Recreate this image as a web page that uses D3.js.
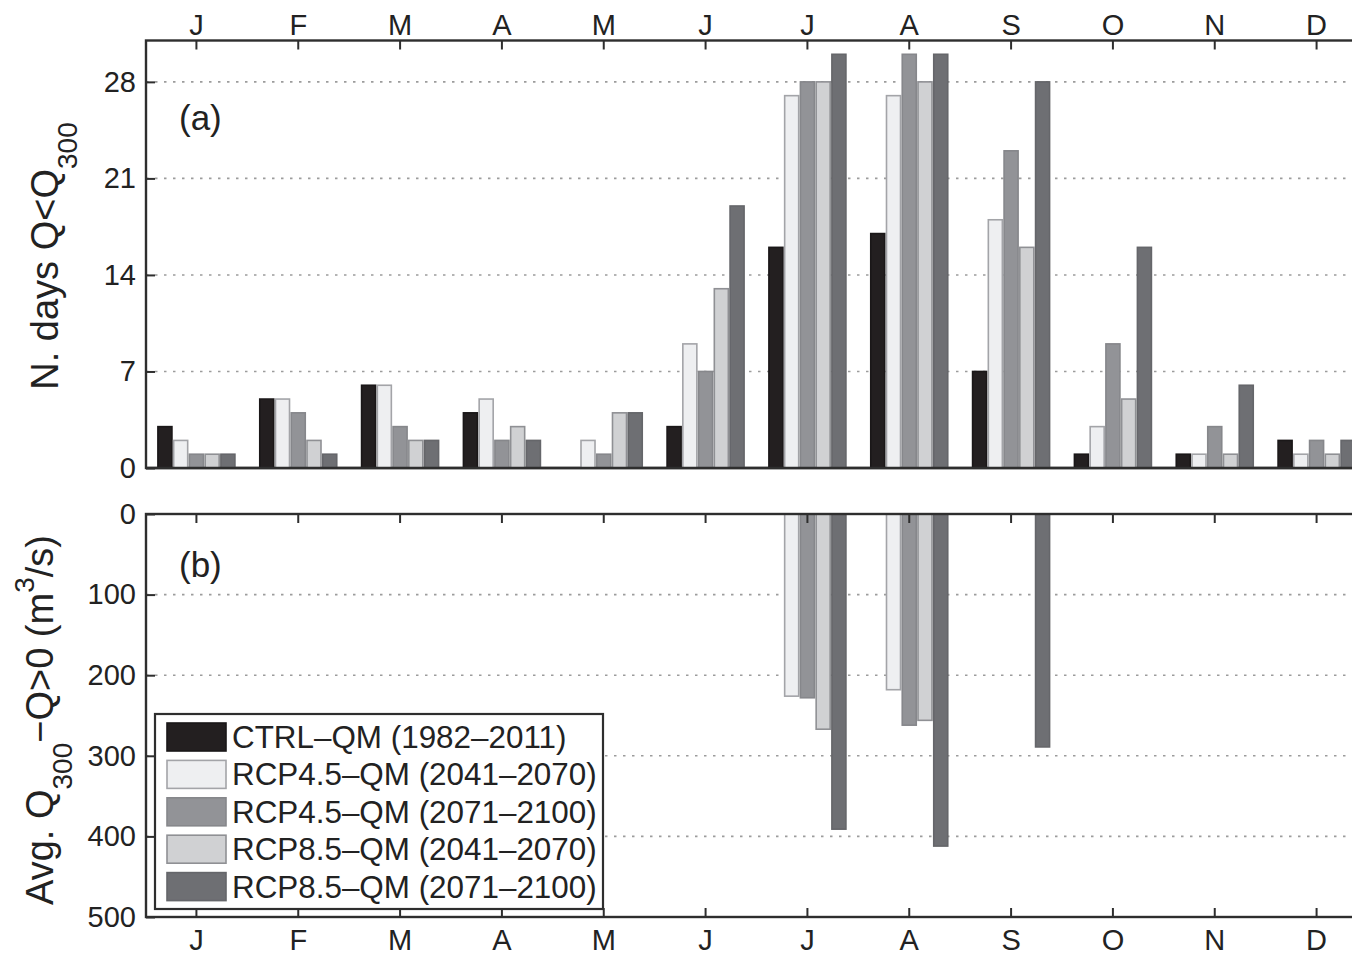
<!DOCTYPE html>
<html>
<head>
<meta charset="utf-8">
<script src="https://cdn.jsdelivr.net/npm/d3@7"></script>
<style>
  html, body { margin: 0; padding: 0; background: #fff; overflow: hidden; }
  svg { display: block; }
  text { font-family: "Liberation Sans", Arial, Helvetica, sans-serif; fill: #222; }
</style>
</head>
<body>
<svg id="chart" width="1352" height="956"></svg>
<script>
// Months (tick labels on the shared x axis)
const months = ["J", "F", "M", "A", "M", "J", "J", "A", "S", "O", "N", "D"];
const monthKeys = d3.range(12);

// Scenario names shown in the legend
const series = [
  "CTRL\u2013QM (1982\u20132011)",
  "RCP4.5\u2013QM (2041\u20132070)",
  "RCP4.5\u2013QM (2071\u20132100)",
  "RCP8.5\u2013QM (2041\u20132070)",
  "RCP8.5\u2013QM (2071\u20132100)"
];
const fills   = ["#231f20", "#eeeff1", "#929397", "#d0d1d3", "#6e6f73"];
const strokes = ["#1a1718", "#a3a4a8", "#86878b", "#8f9094", "#65666a"];

// (a) number of days with Q < Q300, per month, per scenario
const daysCTRL     = [3, 5, 6, 4, 0, 3, 16, 17, 7, 1, 1, 2];
const days45mid    = [2, 5, 6, 5, 2, 9, 27, 27, 18, 3, 1, 1];
const days45late   = [1, 4, 3, 2, 1, 7, 28, 30, 23, 9, 3, 2];
const days85mid    = [1, 2, 2, 3, 4, 13, 28, 28, 16, 5, 1, 1];
const days85late   = [1, 1, 2, 2, 4, 19, 30, 30, 28, 16, 6, 2];

// (b) average deficit Q300 - Q > 0 (m3/s)
const defCTRL   = [0, 0, 0, 0, 0, 0, 0, 0, 0, 0, 0, 0];
const def45mid  = [0, 0, 0, 0, 0, 0, 226, 218, 0, 0, 0, 0];
const def45late = [0, 0, 0, 0, 0, 0, 228, 262, 0, 0, 0, 0];
const def85mid  = [0, 0, 0, 0, 0, 0, 267, 256, 0, 0, 0, 0];
const def85late = [0, 0, 0, 0, 0, 0, 391, 412, 289, 0, 0, 0];

// Axis ticks
const ticksA = [0, 7, 14, 21, 28];
const ticksB = [0, 100, 200, 300, 400, 500];

const daysData = [daysCTRL, days45mid, days45late, days85mid, days85late];
const defData  = [defCTRL, def45mid, def45late, def85mid, def85late];

const svg = d3.select("#chart");
const axisColor = "#2e2e2e";
const fontSize = 29;

const x = d3.scaleBand().domain(monthKeys).range([145.5, 1367.5]).padding(0);
const xi = d3.scaleBand().domain(d3.range(series.length)).range([-38.5, 38.5]).paddingInner(0.11);

const yA = d3.scaleLinear().domain([0, 31]).range([468, 40.5]);
const yB = d3.scaleLinear().domain([0, 500]).range([514, 917]);

const left = 146, right = 1367;

// dotted grid lines
function grid(scale, ticks) {
  svg.append("g").selectAll("line").data(ticks.filter(t => t > 0 && t < scale.domain()[1])).join("line")
    .attr("x1", left).attr("x2", right)
    .attr("y1", d => scale(d)).attr("y2", d => scale(d))
    .attr("stroke", "#9c9c9c").attr("stroke-width", 1.6)
    .attr("stroke-dasharray", "2.5,6.5");
}
grid(yA, ticksA);
grid(yB, ticksB);

// bars
function bars(data, scale) {
  const g = svg.append("g");
  data.forEach((vals, s) => {
    g.append("g").selectAll("rect").data(vals.map((v, m) => ({ v, m }))).join("rect")
      .attr("x", d => x(d.m) + x.bandwidth() / 2 + xi(s))
      .attr("width", xi.bandwidth())
      .attr("y", d => Math.min(scale(0), scale(d.v)))
      .attr("height", d => Math.abs(scale(d.v) - scale(0)))
      .attr("fill", fills[s])
      .attr("stroke", strokes[s])
      .attr("stroke-width", 1.6);
  });
}

// frames and axes
function frame(top, bottom) {
  svg.append("rect").attr("x", left).attr("y", top).attr("width", right - left).attr("height", bottom - top)
    .attr("fill", "none").attr("stroke", axisColor).attr("stroke-width", 2.4);
}

// panel (a)
frame(yA.range()[1], yA(0));
bars(daysData, yA);
// baseline
svg.append("line").attr("x1", left).attr("x2", right).attr("y1", yA(0)).attr("y2", yA(0))
  .attr("stroke", axisColor).attr("stroke-width", 2.4);

// top x axis of (a): ticks inside, labels above
const topAxis = svg.append("g").attr("transform", `translate(0,${yA.range()[1]})`)
  .call(d3.axisTop(x).tickSize(-9).tickFormat(d => months[d]).tickPadding(5.5));
topAxis.select(".domain").remove();

// left y axis of (a)
const leftA = svg.append("g").attr("transform", `translate(${left},0)`)
  .call(d3.axisLeft(yA).tickValues(ticksA).tickSize(-9).tickPadding(10));
leftA.select(".domain").remove();

// panel (b)
bars(defData, yB);
frame(yB(0), yB(500));
// redraw zero-height bars over the top edge of (b)
svg.append("g").selectAll("rect")
  .data(defData.flatMap((vals, s) => vals.map((v, m) => ({ v, m, s }))).filter(d => d.v === 0 && d.s > 0))
  .join("rect")
  .attr("x", d => x(d.m) + x.bandwidth() / 2 + xi(d.s))
  .attr("width", xi.bandwidth())
  .attr("y", yB(0)).attr("height", 0)
  .attr("fill", "none").attr("stroke", d => strokes[d.s]).attr("stroke-width", 1.6);

// top ticks of (b)
const topB = svg.append("g").attr("transform", `translate(0,${yB(0)})`)
  .call(d3.axisTop(x).tickSize(-9).tickFormat(""));
topB.select(".domain").remove();

// bottom x axis of (b)
const bottomB = svg.append("g").attr("transform", `translate(0,${yB(500)})`)
  .call(d3.axisBottom(x).tickSize(-9).tickFormat(d => months[d]).tickPadding(12.5));
bottomB.select(".domain").remove();

// left y axis of (b)
const leftB = svg.append("g").attr("transform", `translate(${left},0)`)
  .call(d3.axisLeft(yB).tickValues(ticksB).tickSize(-9).tickPadding(10));
leftB.select(".domain").remove();

svg.selectAll(".tick line").attr("stroke", axisColor).attr("stroke-width", 2);
svg.selectAll(".tick text").attr("font-size", fontSize).attr("fill", "#222")
  .attr("font-family", "'Liberation Sans', Arial, Helvetica, sans-serif");

// panel tags
svg.append("text").attr("x", 179).attr("y", 130).attr("font-size", 35).text("(a)");
svg.append("text").attr("x", 179).attr("y", 577).attr("font-size", 35).text("(b)");

// y titles
const tA = svg.append("text").attr("transform", "translate(58,256) rotate(-90)")
  .attr("text-anchor", "middle").attr("font-size", 38);
tA.append("tspan").text("N. days Q<Q");
tA.append("tspan").attr("font-size", 28).attr("dy", 19).text("300");

const tB = svg.append("text").attr("transform", "translate(53,720) rotate(-90)")
  .attr("text-anchor", "middle").attr("font-size", 38);
tB.append("tspan").text("Avg. Q");
tB.append("tspan").attr("font-size", 28).attr("dy", 19).text("300");
tB.append("tspan").attr("dy", -19).text("\u2212Q>0 (m");
tB.append("tspan").attr("font-size", 28).attr("dy", -19).text("3");
tB.append("tspan").attr("dy", 19).text("/s)");

// legend
const lg = svg.append("g");
lg.append("rect").attr("x", 155).attr("y", 714).attr("width", 448).attr("height", 195)
  .attr("fill", "#fff").attr("stroke", axisColor).attr("stroke-width", 2.2);
series.forEach((name, i) => {
  const yy = 723 + i * 37.4;
  lg.append("rect").attr("x", 167).attr("y", yy).attr("width", 59).attr("height", 28)
    .attr("fill", fills[i]).attr("stroke", strokes[i]).attr("stroke-width", 1.6);
  lg.append("text").attr("x", 232).attr("y", yy + 25).attr("font-size", 31.4).text(name);
});
</script>
</body>
</html>
